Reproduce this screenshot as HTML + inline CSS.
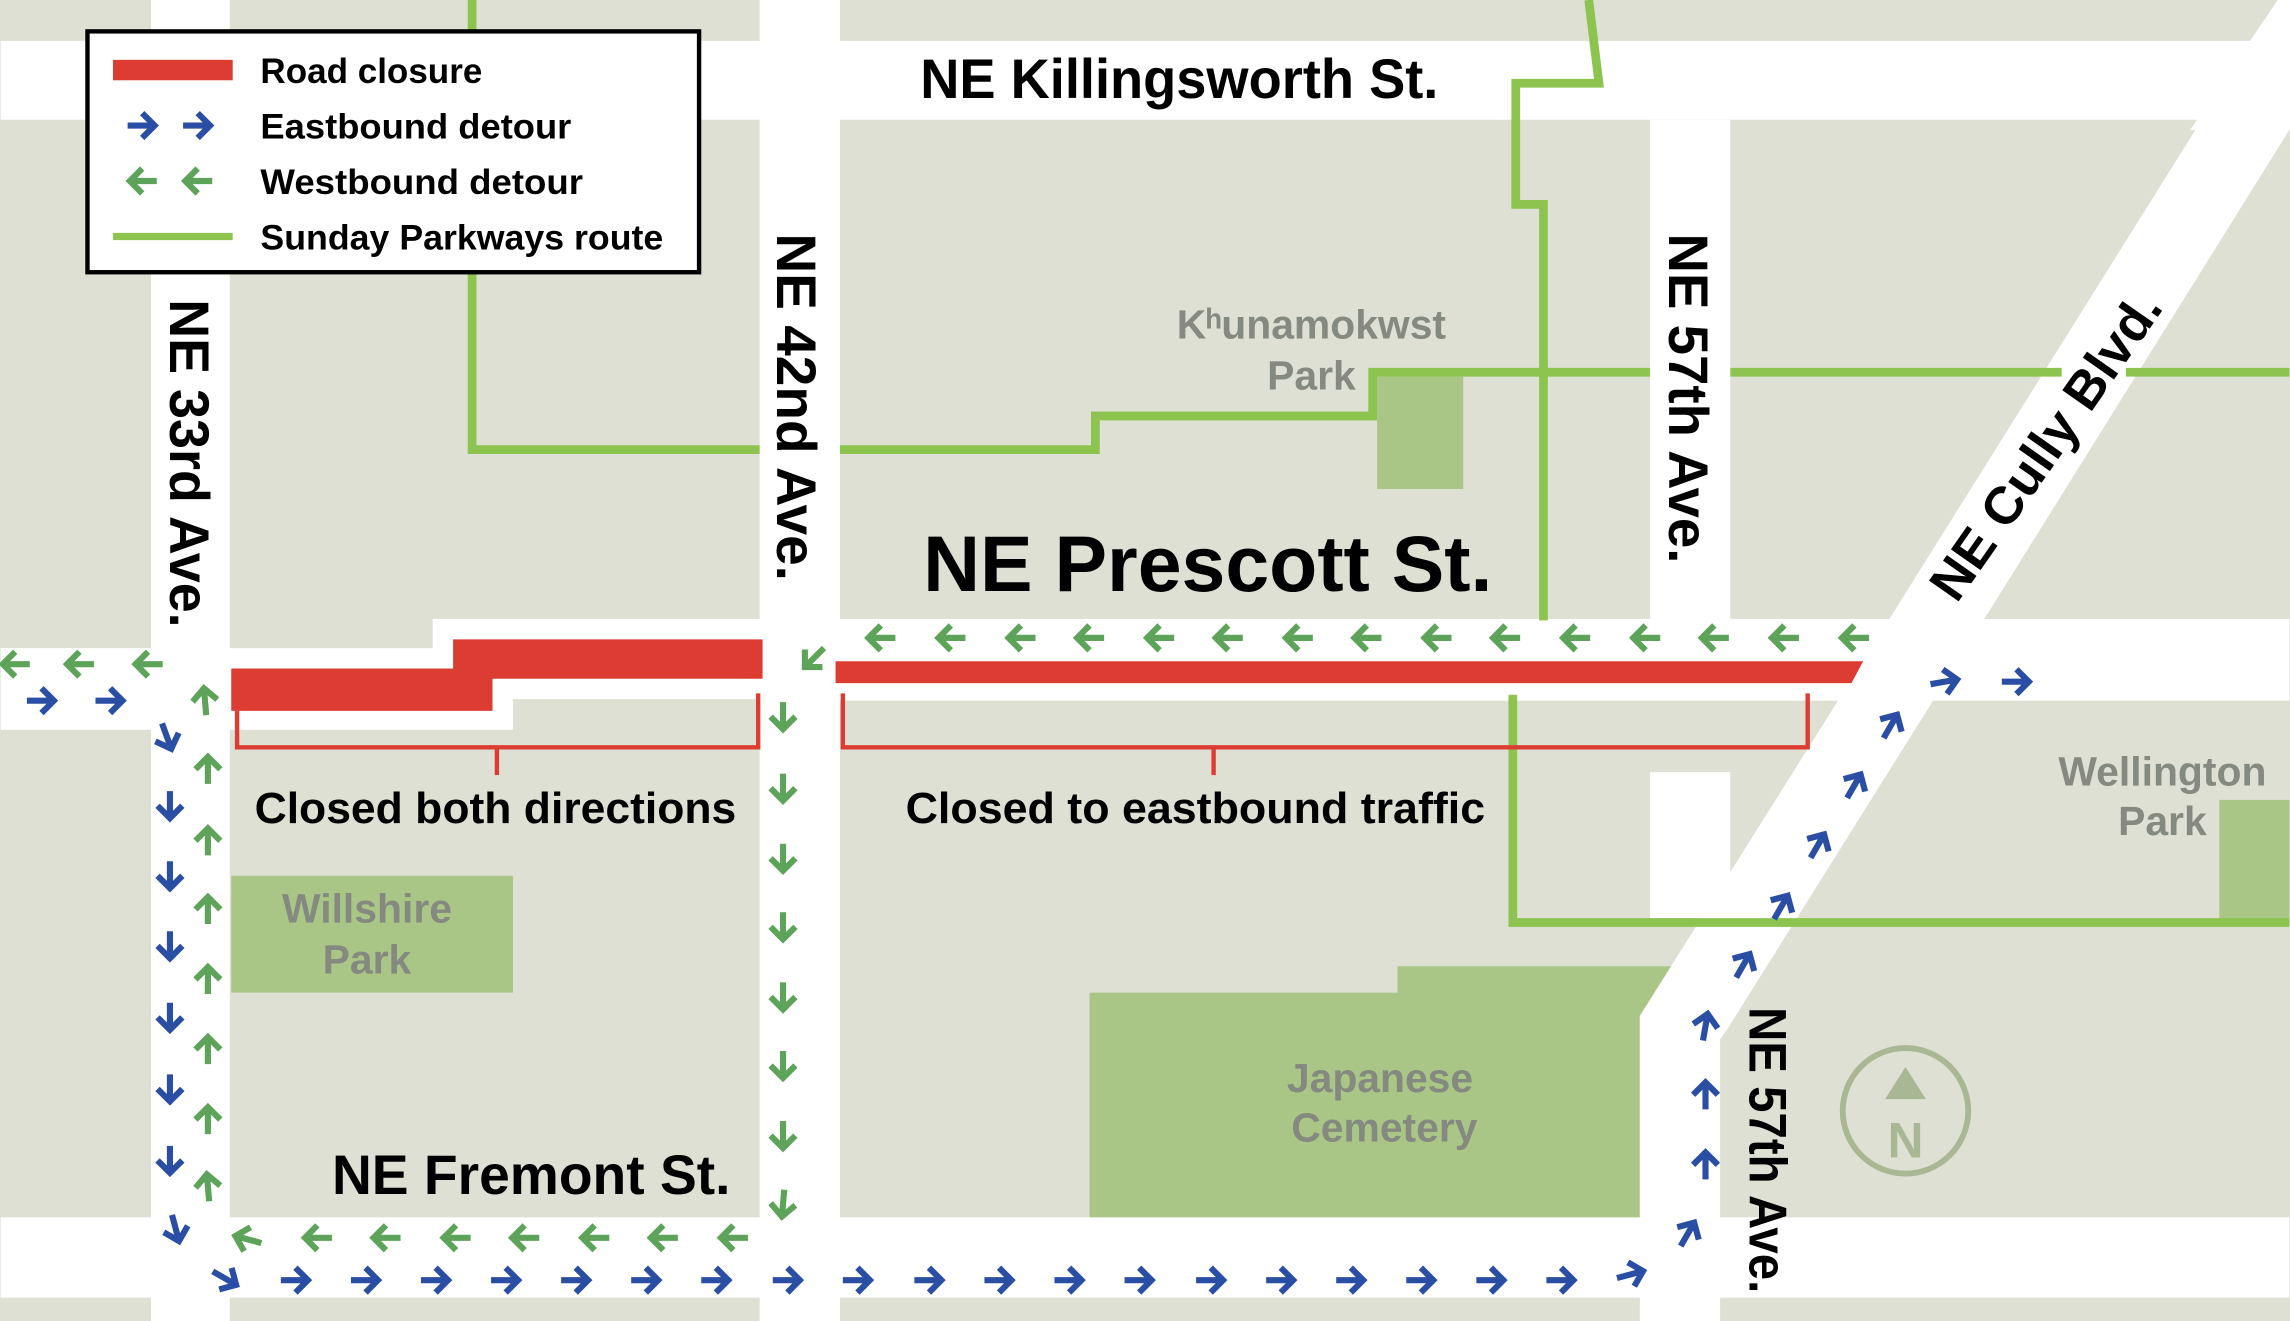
<!DOCTYPE html>
<html><head><meta charset="utf-8"><style>
html,body{margin:0;padding:0;background:#dde0d3;}
svg{display:block;}
text{font-family:"Liberation Sans",sans-serif;font-weight:bold;}
</style></head><body>
<svg width="2290" height="1321" viewBox="0 0 1568 905" xmlns="http://www.w3.org/2000/svg">
<defs>
<g id="ar"><path d="M-10,0 H7 M0,-8.5 L8.5,0 L0,8.5" fill="none" stroke-width="4.2" stroke-linejoin="miter" stroke-linecap="butt"/></g>
</defs>
<rect width="1568" height="905" fill="#dde0d3"/>
<!-- parks -->
<rect x="943" y="258" width="59" height="77" fill="#aac687"/>
<rect x="158" y="600" width="193" height="80" fill="#aac687"/>
<polygon points="746,680 957,680 957,662 1145,662 1123,696 1123,835 746,835" fill="#aac687"/>
<rect x="1520" y="548" width="48" height="82" fill="#aac687"/>
<!-- roads -->
<g fill="#fff">
<rect x="0" y="28" width="1568" height="54"/>
<rect x="103" y="0" width="54" height="905"/>
<rect x="520" y="0" width="55" height="905"/>
<rect x="1130" y="82" width="55" height="345"/>
<rect x="1130" y="529" width="55" height="100"/>
<rect x="0" y="834" width="1568" height="55"/>
<rect x="0" y="444" width="110" height="56"/>
<polygon points="150,444 296,444 296,424 525,424 525,479 351,479 351,500 150,500"/>
<rect x="570" y="424" width="998" height="56"/>
<polygon points="1508,82 1560,0 1640,0 1568,89 1568,89 1359,424 1183,705 1178,712 1178,905 1123,905 1123,696 1294,424"/>
<polygon points="1560,0 1620,0 1568,89 1500,89"/>
</g>
<!-- Sunday parkways -->
<g fill="none" stroke="#8dc450" stroke-width="6" stroke-linejoin="miter">
<polyline points="323,0 323,308 520,308"/>
<polyline points="575,308 750,308 750,285 940,285 940,255 1130,255"/>
<line x1="1185" y1="255" x2="1412" y2="255"/>
<line x1="1456" y1="255" x2="1568" y2="255"/>
<polyline points="1088,0 1095,57 1038,57 1038,140 1057,140 1057,425"/>
<polyline points="1036,476 1036,632 1568,632"/>
</g>
<!-- closures -->
<g fill="#dd3c33">
<polygon points="158,458 310,458 310,438 522,438 522,465 337,465 337,487 158,487"/>
<polygon points="572,453 1276,453 1268,468 572,468"/>
</g>
<g fill="none" stroke="#dd3c33" stroke-width="3">
<polyline points="162,487 162,512 519,512 519,475"/>
<line x1="340" y1="512" x2="340" y2="531"/>
<polyline points="577,475 577,512 1238,512 1238,475"/>
<line x1="831" y1="512" x2="831" y2="531"/>
</g>
<!-- blue arrows -->
<g stroke="#2a4ea3">
<use href="#ar" transform="translate(28,480)"/>
<use href="#ar" transform="translate(75,480)"/>
<use href="#ar" transform="translate(114,505) rotate(70)"/>
<use href="#ar" transform="translate(116,552) rotate(90)"/>
<use href="#ar" transform="translate(116,600) rotate(90)"/>
<use href="#ar" transform="translate(116,648) rotate(90)"/>
<use href="#ar" transform="translate(116,697) rotate(90)"/>
<use href="#ar" transform="translate(116,746) rotate(90)"/>
<use href="#ar" transform="translate(116,795) rotate(90)"/>
<use href="#ar" transform="translate(120,842) rotate(75)"/>
<use href="#ar" transform="translate(154,876) rotate(30)"/>
<use href="#ar" transform="translate(202,877)"/>
<use href="#ar" transform="translate(250,877)"/>
<use href="#ar" transform="translate(298,877)"/>
<use href="#ar" transform="translate(346,877)"/>
<use href="#ar" transform="translate(394,877)"/>
<use href="#ar" transform="translate(442,877)"/>
<use href="#ar" transform="translate(490,877)"/>
<use href="#ar" transform="translate(539,877)"/>
<use href="#ar" transform="translate(587,877)"/>
<use href="#ar" transform="translate(636,877)"/>
<use href="#ar" transform="translate(684,877)"/>
<use href="#ar" transform="translate(732,877)"/>
<use href="#ar" transform="translate(780,877)"/>
<use href="#ar" transform="translate(829,877)"/>
<use href="#ar" transform="translate(877,877)"/>
<use href="#ar" transform="translate(925,877)"/>
<use href="#ar" transform="translate(973,877)"/>
<use href="#ar" transform="translate(1021,877)"/>
<use href="#ar" transform="translate(1069,877)"/>
<use href="#ar" transform="translate(1117,873) rotate(-15)"/>
<use href="#ar" transform="translate(1156,845) rotate(-60)"/>
<use href="#ar" transform="translate(1168,798) rotate(-90)"/>
<use href="#ar" transform="translate(1168,750) rotate(-90)"/>
<use href="#ar" transform="translate(1168,703) rotate(-80)"/>
<use href="#ar" transform="translate(1194,661) rotate(-60)"/>
<use href="#ar" transform="translate(1220,621) rotate(-60)"/>
<use href="#ar" transform="translate(1245,579) rotate(-60)"/>
<use href="#ar" transform="translate(1270,538) rotate(-60)"/>
<use href="#ar" transform="translate(1295,497) rotate(-60)"/>
<use href="#ar" transform="translate(1332,467) rotate(-10)"/>
<use href="#ar" transform="translate(1381,467)"/>
</g>
<!-- green arrows -->
<g stroke="#5ea35a">
<use href="#ar" transform="translate(10,455) rotate(180)"/>
<use href="#ar" transform="translate(54,455) rotate(180)"/>
<use href="#ar" transform="translate(101,455) rotate(180)"/>
<use href="#ar" transform="translate(140,480) rotate(-95)"/>
<use href="#ar" transform="translate(142,527) rotate(-90)"/>
<use href="#ar" transform="translate(142,576) rotate(-90)"/>
<use href="#ar" transform="translate(142,623) rotate(-90)"/>
<use href="#ar" transform="translate(142,671) rotate(-90)"/>
<use href="#ar" transform="translate(142,719) rotate(-90)"/>
<use href="#ar" transform="translate(142,767) rotate(-90)"/>
<use href="#ar" transform="translate(142,813) rotate(-95)"/>
<use href="#ar" transform="translate(169,849) rotate(195)"/>
<use href="#ar" transform="translate(217,848) rotate(180)"/>
<use href="#ar" transform="translate(264,848) rotate(180)"/>
<use href="#ar" transform="translate(312,848) rotate(180)"/>
<use href="#ar" transform="translate(359,848) rotate(180)"/>
<use href="#ar" transform="translate(407,848) rotate(180)"/>
<use href="#ar" transform="translate(454,848) rotate(180)"/>
<use href="#ar" transform="translate(502,848) rotate(180)"/>
<use href="#ar" transform="translate(557,451) rotate(135)"/>
<use href="#ar" transform="translate(536,491) rotate(90)"/>
<use href="#ar" transform="translate(536,540) rotate(90)"/>
<use href="#ar" transform="translate(536,588) rotate(90)"/>
<use href="#ar" transform="translate(536,635) rotate(90)"/>
<use href="#ar" transform="translate(536,683) rotate(90)"/>
<use href="#ar" transform="translate(536,730) rotate(90)"/>
<use href="#ar" transform="translate(536,778) rotate(90)"/>
<use href="#ar" transform="translate(536,825) rotate(95)"/>
<use href="#ar" transform="translate(1270,437) rotate(180)"/>
<use href="#ar" transform="translate(1222,437) rotate(180)"/>
<use href="#ar" transform="translate(1174,437) rotate(180)"/>
<use href="#ar" transform="translate(1127,437) rotate(180)"/>
<use href="#ar" transform="translate(1079,437) rotate(180)"/>
<use href="#ar" transform="translate(1031,437) rotate(180)"/>
<use href="#ar" transform="translate(984,437) rotate(180)"/>
<use href="#ar" transform="translate(936,437) rotate(180)"/>
<use href="#ar" transform="translate(889,437) rotate(180)"/>
<use href="#ar" transform="translate(841,437) rotate(180)"/>
<use href="#ar" transform="translate(794,437) rotate(180)"/>
<use href="#ar" transform="translate(746,437) rotate(180)"/>
<use href="#ar" transform="translate(699,437) rotate(180)"/>
<use href="#ar" transform="translate(651,437) rotate(180)"/>
<use href="#ar" transform="translate(603,437) rotate(180)"/>
</g>
<!-- compass -->
<circle cx="1305" cy="761" r="43" fill="none" stroke="#aab794" stroke-width="4"/>
<polygon points="1305,731 1291,753 1319,753" fill="#aab794"/>
<text x="1305" y="793" font-size="34" fill="#aab794" text-anchor="middle">N</text>
<!-- street labels -->
<g fill="#000">
<text x="630" y="67" font-size="38" textLength="355" lengthAdjust="spacingAndGlyphs">NE Killingsworth St.</text>
<text x="632" y="405" font-size="54" textLength="390" lengthAdjust="spacingAndGlyphs">NE Prescott St.</text>
<text x="227" y="818" font-size="38" textLength="273" lengthAdjust="spacingAndGlyphs">NE Fremont St.</text>
<text x="174" y="564" font-size="30" textLength="330" lengthAdjust="spacingAndGlyphs">Closed both directions</text>
<text x="620" y="564" font-size="30" textLength="397" lengthAdjust="spacingAndGlyphs">Closed to eastbound traffic</text>
<text transform="translate(116,205) rotate(90)" font-size="38" textLength="225" lengthAdjust="spacingAndGlyphs">NE 33rd Ave.</text>
<text transform="translate(532,160) rotate(90)" font-size="38" textLength="238" lengthAdjust="spacingAndGlyphs">NE 42nd Ave.</text>
<text transform="translate(1143,160) rotate(90)" font-size="38" textLength="226" lengthAdjust="spacingAndGlyphs">NE 57th Ave.</text>
<text transform="translate(1198,690) rotate(90)" font-size="36" textLength="196" lengthAdjust="spacingAndGlyphs">NE 57th Ave.</text>
<text transform="translate(1340,414) rotate(-55)" font-size="36" textLength="248" lengthAdjust="spacingAndGlyphs">NE Cully Blvd.</text>
</g>
<!-- park labels -->
<g fill="#858a80" font-size="28" text-anchor="middle">
<text x="898" y="232">Kʰunamokwst</text>
<text x="898" y="267">Park</text>
<text x="251" y="632">Willshire</text>
<text x="251" y="667">Park</text>
<text x="945" y="748">Japanese</text>
<text x="948" y="782">Cemetery</text>
<text x="1481" y="538">Wellington</text>
<text x="1481" y="572">Park</text>
</g>
<!-- legend -->
<rect x="59.5" y="21.5" width="419" height="165" fill="#fff" stroke="#000" stroke-width="3"/>
<rect x="77" y="41" width="82" height="14" fill="#dd3c33"/>
<line x1="77" y1="162" x2="159" y2="162" stroke="#8dc450" stroke-width="5"/>
<g stroke="#2a4ea3"><use href="#ar" transform="translate(97,86)"/><use href="#ar" transform="translate(135,86)"/></g>
<g stroke="#5ea35a"><use href="#ar" transform="translate(97,124) rotate(180)"/><use href="#ar" transform="translate(135,124) rotate(180)"/></g>
<g fill="#000" font-size="24">
<text x="178" y="57" textLength="152" lengthAdjust="spacingAndGlyphs">Road closure</text>
<text x="178" y="95" textLength="213" lengthAdjust="spacingAndGlyphs">Eastbound detour</text>
<text x="178" y="133" textLength="221" lengthAdjust="spacingAndGlyphs">Westbound detour</text>
<text x="178" y="171" textLength="276" lengthAdjust="spacingAndGlyphs">Sunday Parkways route</text>
</g>
</svg>
</body></html>
